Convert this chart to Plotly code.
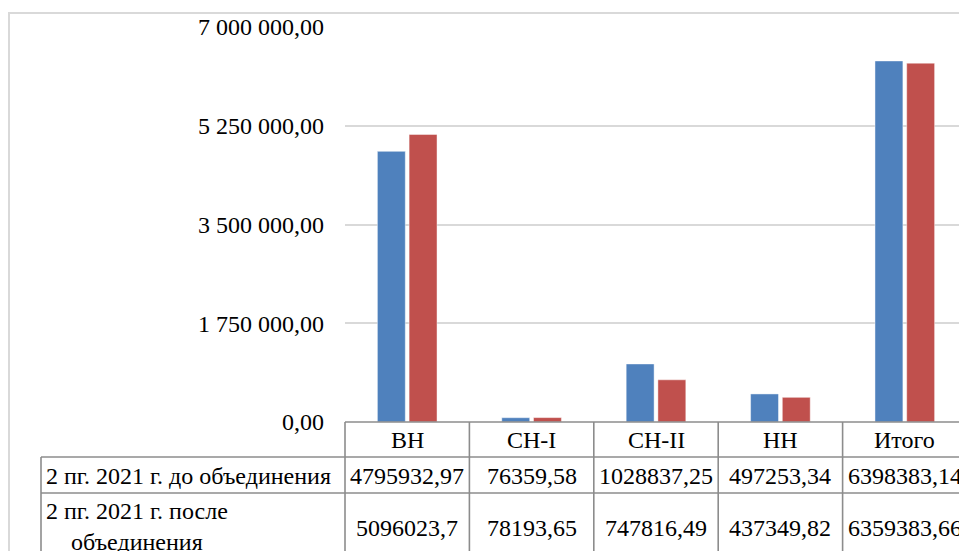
import plotly.graph_objects as go

# ---- data -------------------------------------------------------------
categories = ["ВН", "СН-I", "СН-II", "НН", "Итого"]
series_names = ["2 пг. 2021 г. до объединения", "2 пг. 2021 г. после объединения"]
before_merge = [4795932.97, 76359.58, 1028837.25, 497253.34, 6398383.14]
after_merge = [5096023.7, 78193.65, 747816.49, 437349.82, 6359383.66]
y_ticks = [0, 1750000, 3500000, 5250000, 7000000]

COLORS = ["#4F81BD", "#C0504D"]
FONT = "Liberation Serif, Times New Roman, serif"
GRID = "#D9D9D9"
TABLE_LINE = "#8C8C8C"

W, H = 959, 551
M_L, M_T = 345, 27
M_B = H - 422
PLOT_W = W - M_L
PLOT_H = H - M_T - M_B
CAT_W = 124.4                      # px per category (last column is cut by the window)
X_RANGE = [-0.5, -0.5 + PLOT_W / CAT_W]


def px_y(py):
    """pixel row -> paper y"""
    return (H - M_B - py) / PLOT_H


def px_x(px):
    """pixel column -> paper x"""
    return (px - M_L) / PLOT_W


def cat_x(b):
    """category coordinate -> paper x"""
    return (b - X_RANGE[0]) / (X_RANGE[1] - X_RANGE[0])


fig = go.Figure()
for name, vals, col in zip(series_names, [before_merge, after_merge], COLORS):
    fig.add_trace(go.Bar(
        name=name, x=list(range(len(categories))), y=vals,
        marker=dict(color=col, line=dict(color="rgba(255,255,255,0.45)", width=1)),
        hoverinfo="skip",
    ))

# ---- data table under the axis ----------------------------------------
shapes = []
line = dict(color=TABLE_LINE, width=1.6)
rows_py = [422, 457, 493]          # header top, row1 top, row2 top
bottom = px_y(H + 20)
right = 1.05

# horizontal lines
shapes.append(dict(type="line", xref="paper", yref="paper",
                   x0=0, x1=right, y0=px_y(rows_py[0]), y1=px_y(rows_py[0]), line=line))
for py in rows_py[1:]:
    shapes.append(dict(type="line", xref="paper", yref="paper",
                       x0=px_x(41), x1=right, y0=px_y(py), y1=px_y(py), line=line))
# vertical lines
shapes.append(dict(type="line", xref="paper", yref="paper",
                   x0=px_x(41), x1=px_x(41), y0=px_y(rows_py[1]), y1=bottom, line=line))
for i in range(len(categories)):
    b = i - 0.5
    if cat_x(b) <= 1:
        shapes.append(dict(type="line", xref="paper", yref="paper",
                           x0=cat_x(b), x1=cat_x(b), y0=px_y(rows_py[0]), y1=bottom, line=line))

# outer chart border
shapes.append(dict(type="rect", xref="paper", yref="paper",
                   x0=px_x(9), x1=1.2, y0=bottom, y1=px_y(13),
                   line=dict(color=GRID, width=2), fillcolor="rgba(0,0,0,0)", layer="below"))

annotations = []
tf = dict(family=FONT, size=24, color="#000000")


def fmt(v):
    return str(v).replace(".", ",")


for i, c in enumerate(categories):
    annotations.append(dict(x=i, y=px_y(440), xref="x", yref="paper", text=c,
                            showarrow=False, font=tf, xanchor="center", yanchor="middle"))
    annotations.append(dict(x=i, y=px_y(476), xref="x", yref="paper", text=fmt(before_merge[i]),
                            showarrow=False, font=tf, xanchor="center", yanchor="middle"))
    annotations.append(dict(x=i, y=px_y(528), xref="x", yref="paper", text=fmt(after_merge[i]),
                            showarrow=False, font=tf, xanchor="center", yanchor="middle"))

annotations.append(dict(x=px_x(44), y=px_y(476), xref="paper", yref="paper",
                        text=series_names[0], showarrow=False, font=tf,
                        xanchor="left", yanchor="middle"))
annotations.append(dict(x=px_x(44), y=px_y(526), xref="paper", yref="paper",
                        text=series_names[1].replace(" объединения", "<br>объединения"),
                        showarrow=False, font=tf, align="center",
                        xanchor="left", yanchor="middle"))

fig.update_layout(
    width=W, height=H,
    margin=dict(l=M_L, r=0, t=M_T, b=M_B, pad=0),
    plot_bgcolor="#FFFFFF", paper_bgcolor="#FFFFFF",
    font=dict(family=FONT, size=24, color="#000000"),
    separators=", ",
    barmode="group", bargap=0.49, bargroupgap=0.12,
    showlegend=False,
    xaxis=dict(range=X_RANGE, showticklabels=False, showgrid=False, zeroline=False,
               showline=False, ticks=""),
    yaxis=dict(range=[0, 7000000], tickvals=y_ticks, tickformat=",.2f",
               showgrid=True, gridcolor=GRID, gridwidth=2, zeroline=False,
               showline=False, ticks="", ticklabelstandoff=20,
               tickfont=dict(family=FONT, size=24, color="#000000")),
    shapes=shapes,
    annotations=annotations,
)

# drop the default body margin so the figure fills the window without scrolling
fig.write_html("out.html", config={"displayModeBar": False}, post_script=(
    "document.body.style.margin='0';"
    "document.documentElement.style.overflow='hidden';"
))
